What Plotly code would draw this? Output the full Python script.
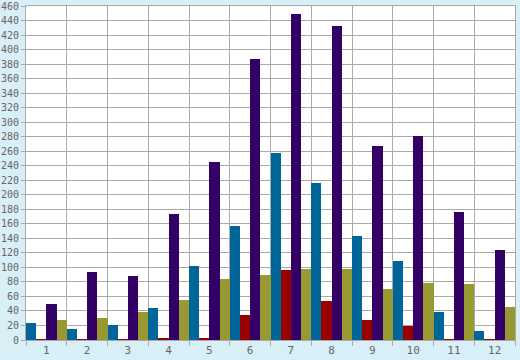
import plotly.graph_objects as go

months = [1, 2, 3, 4, 5, 6, 7, 8, 9, 10, 11, 12]
month_labels = ["1", "2", "3", "4", "5", "6", "7", "8", "9", "10", "11", "12"]
series_blue = [23, 15, 21, 44, 102, 157, 257, 216, 143, 109, 38, 12]
series_red = [1, 1, 1, 3, 2, 34, 96, 54, 27, 19, 1, 1]
series_purple = [49, 93, 88, 174, 245, 387, 449, 432, 267, 281, 176, 124]
series_olive = [27, 30, 38, 55, 84, 89, 98, 98, 70, 78, 77, 45]
y_ticks = list(range(0, 461, 20))

colors = ["#006699", "#990000", "#330066", "#999933"]
names = ["A", "B", "C", "D"]

fig = go.Figure()
for name, vals, c in zip(names, [series_blue, series_red, series_purple, series_olive], colors):
    fig.add_trace(go.Bar(x=months, y=vals, name=name, marker=dict(color=c, line=dict(width=0))))

grid = "#aaaaaa"
fig.update_layout(
    width=520, height=360,
    margin=dict(l=26, r=5, t=6, b=20),
    paper_bgcolor="#d9eff7",
    plot_bgcolor="#ffffff",
    barmode="group", bargap=0, bargroupgap=0,
    showlegend=False,
    font=dict(family="DejaVu Sans Mono", size=10, color="#666666"),
)
fig.update_xaxes(
    range=[0.5, 12.5],
    tickvals=months, ticktext=month_labels,
    tickfont=dict(size=11),
    ticks="", showgrid=False,
    showline=True, mirror=True, linecolor=grid, linewidth=1,
    minor=dict(tickvals=[m - 0.5 for m in months] + [12.5], showgrid=True,
               gridcolor=grid, gridwidth=1, ticks="outside", ticklen=5, tickcolor=grid),
    zeroline=False, automargin=False,
    fixedrange=True,
)
fig.update_yaxes(
    range=[0, 460], tickvals=y_ticks,
    showgrid=True, gridcolor=grid, gridwidth=1,
    ticks="outside", ticklen=4, tickcolor=grid,
    showline=True, mirror=True, linecolor=grid, linewidth=1,
    zeroline=False, automargin=False,
    ticklabelstandoff=0,
)
fig.write_html("out.html")
